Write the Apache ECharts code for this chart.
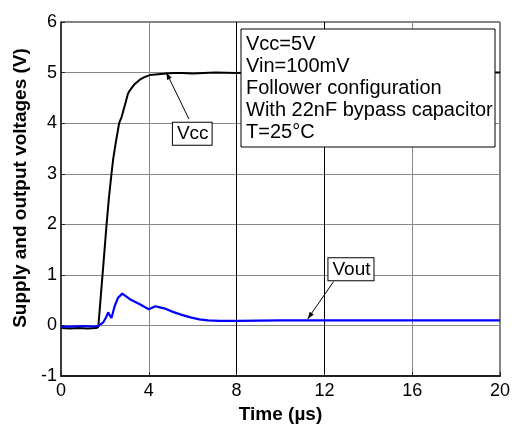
<!DOCTYPE html>
<html>
<head>
<meta charset="utf-8">
<script src="https://cdn.jsdelivr.net/npm/echarts@6/dist/echarts.min.js"></script>
<style>
  html, body { margin: 0; padding: 0; background: #fff; }
  #chart { width: 519px; height: 429px; }
</style>
</head>
<body>
<div id="chart"></div>
<script>
// Vcc (supply) trace, time in µs / volts
const vccTime = [0, 0.4, 0.8, 1.2, 1.6, 1.70, 1.82, 1.92, 2.08, 2.18, 2.30, 2.38, 2.50, 2.65, 2.76, 2.95, 3.05, 3.14, 3.35, 3.59, 3.8, 4.05, 4.3, 4.55, 4.8, 5.1, 5.5, 6, 7, 8, 9, 10, 11, 12, 13, 14, 15, 16, 17, 18, 19, 20];
const vccVolt = [-0.05, -0.06, -0.05, -0.06, -0.05, -0.03, 0.62, 1.15, 2.02, 2.51, 3.0, 3.3, 3.63, 4.0, 4.12, 4.42, 4.58, 4.65, 4.77, 4.86, 4.91, 4.95, 4.96, 4.97, 4.98, 4.99, 4.99, 4.98, 5.0, 4.99, 5.0, 4.99, 5.0, 4.99, 5.0, 5.0, 4.99, 5.0, 4.99, 5.0, 5.0, 5.0];

// Vout trace
const voutTime = [0, 0.5, 1, 1.5, 1.7, 1.92, 2.05, 2.15, 2.22, 2.30, 2.45, 2.60, 2.79, 2.95, 3.14, 3.59, 4.0, 4.15, 4.3, 4.5, 4.7, 5.1, 5.5, 5.9, 6.3, 6.7, 7.2, 8, 10, 12, 14, 16, 18, 20];
const voutVolt = [-0.02, -0.02, -0.01, -0.02, -0.01, 0.06, 0.16, 0.26, 0.2, 0.15, 0.39, 0.55, 0.63, 0.58, 0.52, 0.42, 0.32, 0.35, 0.38, 0.36, 0.34, 0.27, 0.21, 0.16, 0.12, 0.1, 0.09, 0.09, 0.1, 0.1, 0.1, 0.1, 0.1, 0.1];

const infoLines = ['Vcc=5V', 'Vin=100mV', 'Follower configuration', 'With 22nF bypass capacitor', 'T=25°C'];

// annotation anchors (data units): label centre, arrow start, arrow tip
const vccLabel = { text: 'Vcc', at: [5.98, 3.81], from: [5.83, 4.08], to: [4.8, 5.0] };
const voutLabel = { text: 'Vout', at: [13.21, 1.13], from: [12.42, 0.87], to: [11.24, 0.13] };

const font = 'Liberation Sans, Arial, sans-serif';
const chart = echarts.init(document.getElementById('chart'));

const zip = (xs, ys) => xs.map((x, i) => [x, ys[i]]);

const option = {
  animation: false,
  textStyle: { fontFamily: font },
  grid: {
    left: 61, right: 19, top: 22, bottom: 50,
    show: true, borderColor: '#000', borderWidth: 1
  },
  xAxis: {
    type: 'value',
    min: 0, max: 20, interval: 4,
    name: 'Time (µs)',
    nameLocation: 'middle',
    nameGap: 27,
    nameTextStyle: { fontSize: 19, fontWeight: 'bold', color: '#000' },
    axisLine: { onZero: false, lineStyle: { color: '#222', width: 2 } },
    axisTick: { inside: true, length: 4, lineStyle: { color: '#222' } },
    axisLabel: { fontSize: 18, color: '#000', margin: 6 },
    splitLine: { lineStyle: { color: ['#888', '#888', '#000', '#000', '#888', '#888'], width: 1 } }
  },
  yAxis: {
    type: 'value',
    min: -1, max: 6, interval: 1,
    axisLine: { show: true, onZero: false, lineStyle: { color: '#222', width: 1.5 } },
    axisTick: { show: true, inside: true, length: 4, lineStyle: { color: '#222' } },
    axisLabel: { fontSize: 18, color: '#000', margin: 4 },
    splitLine: { lineStyle: { color: '#888', width: 1 } }
  },
  series: [
    {
      name: 'Vcc',
      type: 'line',
      data: zip(vccTime, vccVolt),
      showSymbol: false,
      lineStyle: { color: '#000', width: 2 },
      z: 3
    },
    {
      name: 'Vout',
      type: 'line',
      data: zip(voutTime, voutVolt),
      showSymbol: false,
      lineStyle: { color: '#0000ff', width: 2.2 },
      z: 4
    }
  ]
};

chart.setOption(option);

const px = (p) => chart.convertToPixel({ gridIndex: 0 }, p);

function arrowHead(a, b) {
  const ang = Math.atan2(b[1] - a[1], b[0] - a[0]);
  const len = 7, w = 2.5;
  const bx = b[0] - len * Math.cos(ang), by = b[1] - len * Math.sin(ang);
  return [
    [b[0], b[1]],
    [bx + w * Math.sin(ang), by - w * Math.cos(ang)],
    [bx - w * Math.sin(ang), by + w * Math.cos(ang)]
  ];
}

const labelBox = (lab) => {
  const c = px(lab.at);
  const a = px(lab.from);
  const b = px(lab.to);
  return [
    {
      type: 'line',
      shape: { x1: a[0], y1: a[1], x2: b[0], y2: b[1] },
      style: { stroke: '#000', lineWidth: 1 },
      z: 20
    },
    {
      type: 'polygon',
      shape: { points: arrowHead(a, b) },
      style: { fill: '#000' },
      z: 20
    },
    {
      type: 'text',
      x: c[0], y: c[1] + 1,
      style: {
        text: lab.text, font: '19px ' + font, fill: '#000',
        align: 'center', verticalAlign: 'middle',
        backgroundColor: '#fff', borderColor: '#000', borderWidth: 1,
        padding: [2, 3, 1, 4]
      },
      z: 21
    }
  ];
};

chart.setOption({
  graphic: [
    {
      type: 'text',
      x: 21, y: 188, rotation: Math.PI / 2,
      style: {
        text: 'Supply and output voltages (V)',
        font: 'bold 19px ' + font, fill: '#000',
        align: 'center', verticalAlign: 'middle'
      }
    },
    {
      type: 'rect',
      shape: { x: 241, y: 29, width: 254, height: 118 },
      style: { fill: '#fff', stroke: '#000', lineWidth: 1 },
      z: 20
    },
    {
      type: 'text',
      x: 246, y: 33,
      style: {
        text: infoLines.join('\n'),
        font: '20px ' + font, fill: '#000',
        lineHeight: 22
      },
      z: 21
    },
    ...labelBox(vccLabel),
    ...labelBox(voutLabel)
  ]
});
</script>
</body>
</html>
